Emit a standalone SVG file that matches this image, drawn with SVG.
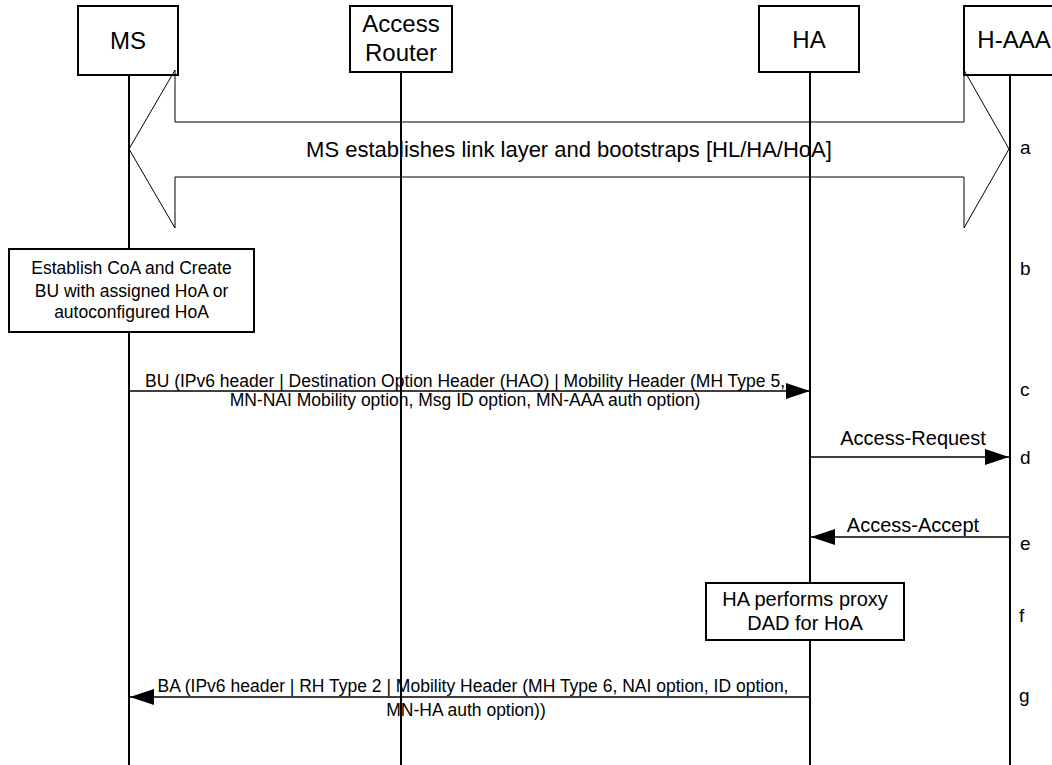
<svg xmlns="http://www.w3.org/2000/svg" width="1052" height="765" viewBox="0 0 1052 765">
<defs>
<style>
text{font-family:"Liberation Sans",Arial,sans-serif;fill:#000}
.hdr{font-size:24px;text-anchor:middle}
.box{fill:#fff;stroke:#000;stroke-width:2}
.life{stroke:#000;stroke-width:2;fill:none}
.msg{stroke:#000;stroke-width:1.5;fill:none}
.t17{font-size:17.5px;text-anchor:middle}
.t20{font-size:20px;text-anchor:middle}
.lbl{font-size:19px}
</style>
<marker id="ah" markerUnits="userSpaceOnUse" markerWidth="24" markerHeight="16" refX="24" refY="8" orient="auto">
<path d="M0,0 L24,8 L0,16 Z" fill="#000"/>
</marker>
</defs>
<rect width="1052" height="765" fill="#fff"/>

<g id="lifelines">
<line class="life" x1="129" y1="75" x2="129" y2="765"/>
<line class="life" x1="401" y1="72" x2="401" y2="765"/>
<line class="life" x1="810" y1="72" x2="810" y2="765"/>
<line class="life" x1="1010" y1="75" x2="1010" y2="765"/>
</g>

<g id="node-ms">
<rect class="box" x="78" y="6" width="100" height="69"/>
<text class="hdr" x="128" y="49">MS</text>
</g>
<g id="node-ar">
<rect class="box" x="350" y="6" width="102" height="66"/>
<text class="hdr" x="401" y="32">Access</text>
<text class="hdr" x="401" y="61">Router</text>
</g>
<g id="node-ha">
<rect class="box" x="759" y="6" width="100" height="66"/>
<text class="hdr" x="809" y="48">HA</text>
</g>
<g id="node-haaa">
<rect class="box" x="964" y="6" width="100" height="69"/>
<text class="hdr" x="1014" y="48">H-AAA</text>
</g>

<g id="connectors">
<path d="M129,149 L175,70 L175,122 L964,122 L964,70 L1009,149 L964,228 L964,177 L175,177 L175,228 Z" fill="none" stroke="#000" stroke-width="1"/>
<text x="569" y="157" style="font-size:22px;text-anchor:middle">MS establishes link layer and bootstraps [HL/HA/HoA]</text>

<line class="msg" x1="129" y1="391" x2="810" y2="391" marker-end="url(#ah)"/>
<text class="t17" x="465" y="387">BU (IPv6 header | Destination Option Header (HAO) | Mobility Header (MH Type 5,</text>
<text class="t17" x="465" y="406">MN-NAI Mobility option, Msg ID option, MN-AAA auth option)</text>

<line class="msg" x1="810" y1="457" x2="1009" y2="457" marker-end="url(#ah)"/>
<text class="t20" x="913" y="445">Access-Request</text>

<line class="msg" x1="1009" y1="537" x2="811" y2="537" marker-end="url(#ah)"/>
<text class="t20" x="913" y="532">Access-Accept</text>

<line class="msg" x1="810" y1="697" x2="130" y2="697" marker-end="url(#ah)"/>
<text class="t17" x="473" y="692">BA (IPv6 header | RH Type 2 | Mobility Header (MH Type 6, NAI option, ID option,</text>
<text class="t17" x="466" y="716">MN-HA auth option))</text>
</g>

<g id="node-establish">
<rect class="box" x="9" y="249" width="245" height="83"/>
<text class="t17" x="131.5" y="274">Establish CoA and Create</text>
<text class="t17" x="131.5" y="296.5">BU with assigned HoA or</text>
<text class="t17" x="131.5" y="318">autoconfigured HoA</text>
</g>

<g id="node-proxy-dad">
<rect class="box" x="706" y="583" width="198" height="57"/>
<text class="t20" x="805" y="606">HA performs proxy</text>
<text class="t20" x="805" y="630">DAD for HoA</text>
</g>

<g id="step-labels">
<text class="lbl" x="1020" y="154">a</text>
<text class="lbl" x="1020" y="275">b</text>
<text class="lbl" x="1020" y="396">c</text>
<text class="lbl" x="1020" y="464">d</text>
<text class="lbl" x="1020" y="550">e</text>
<text class="lbl" x="1019" y="622">f</text>
<text class="lbl" x="1019" y="702">g</text>
</g>
</svg>
